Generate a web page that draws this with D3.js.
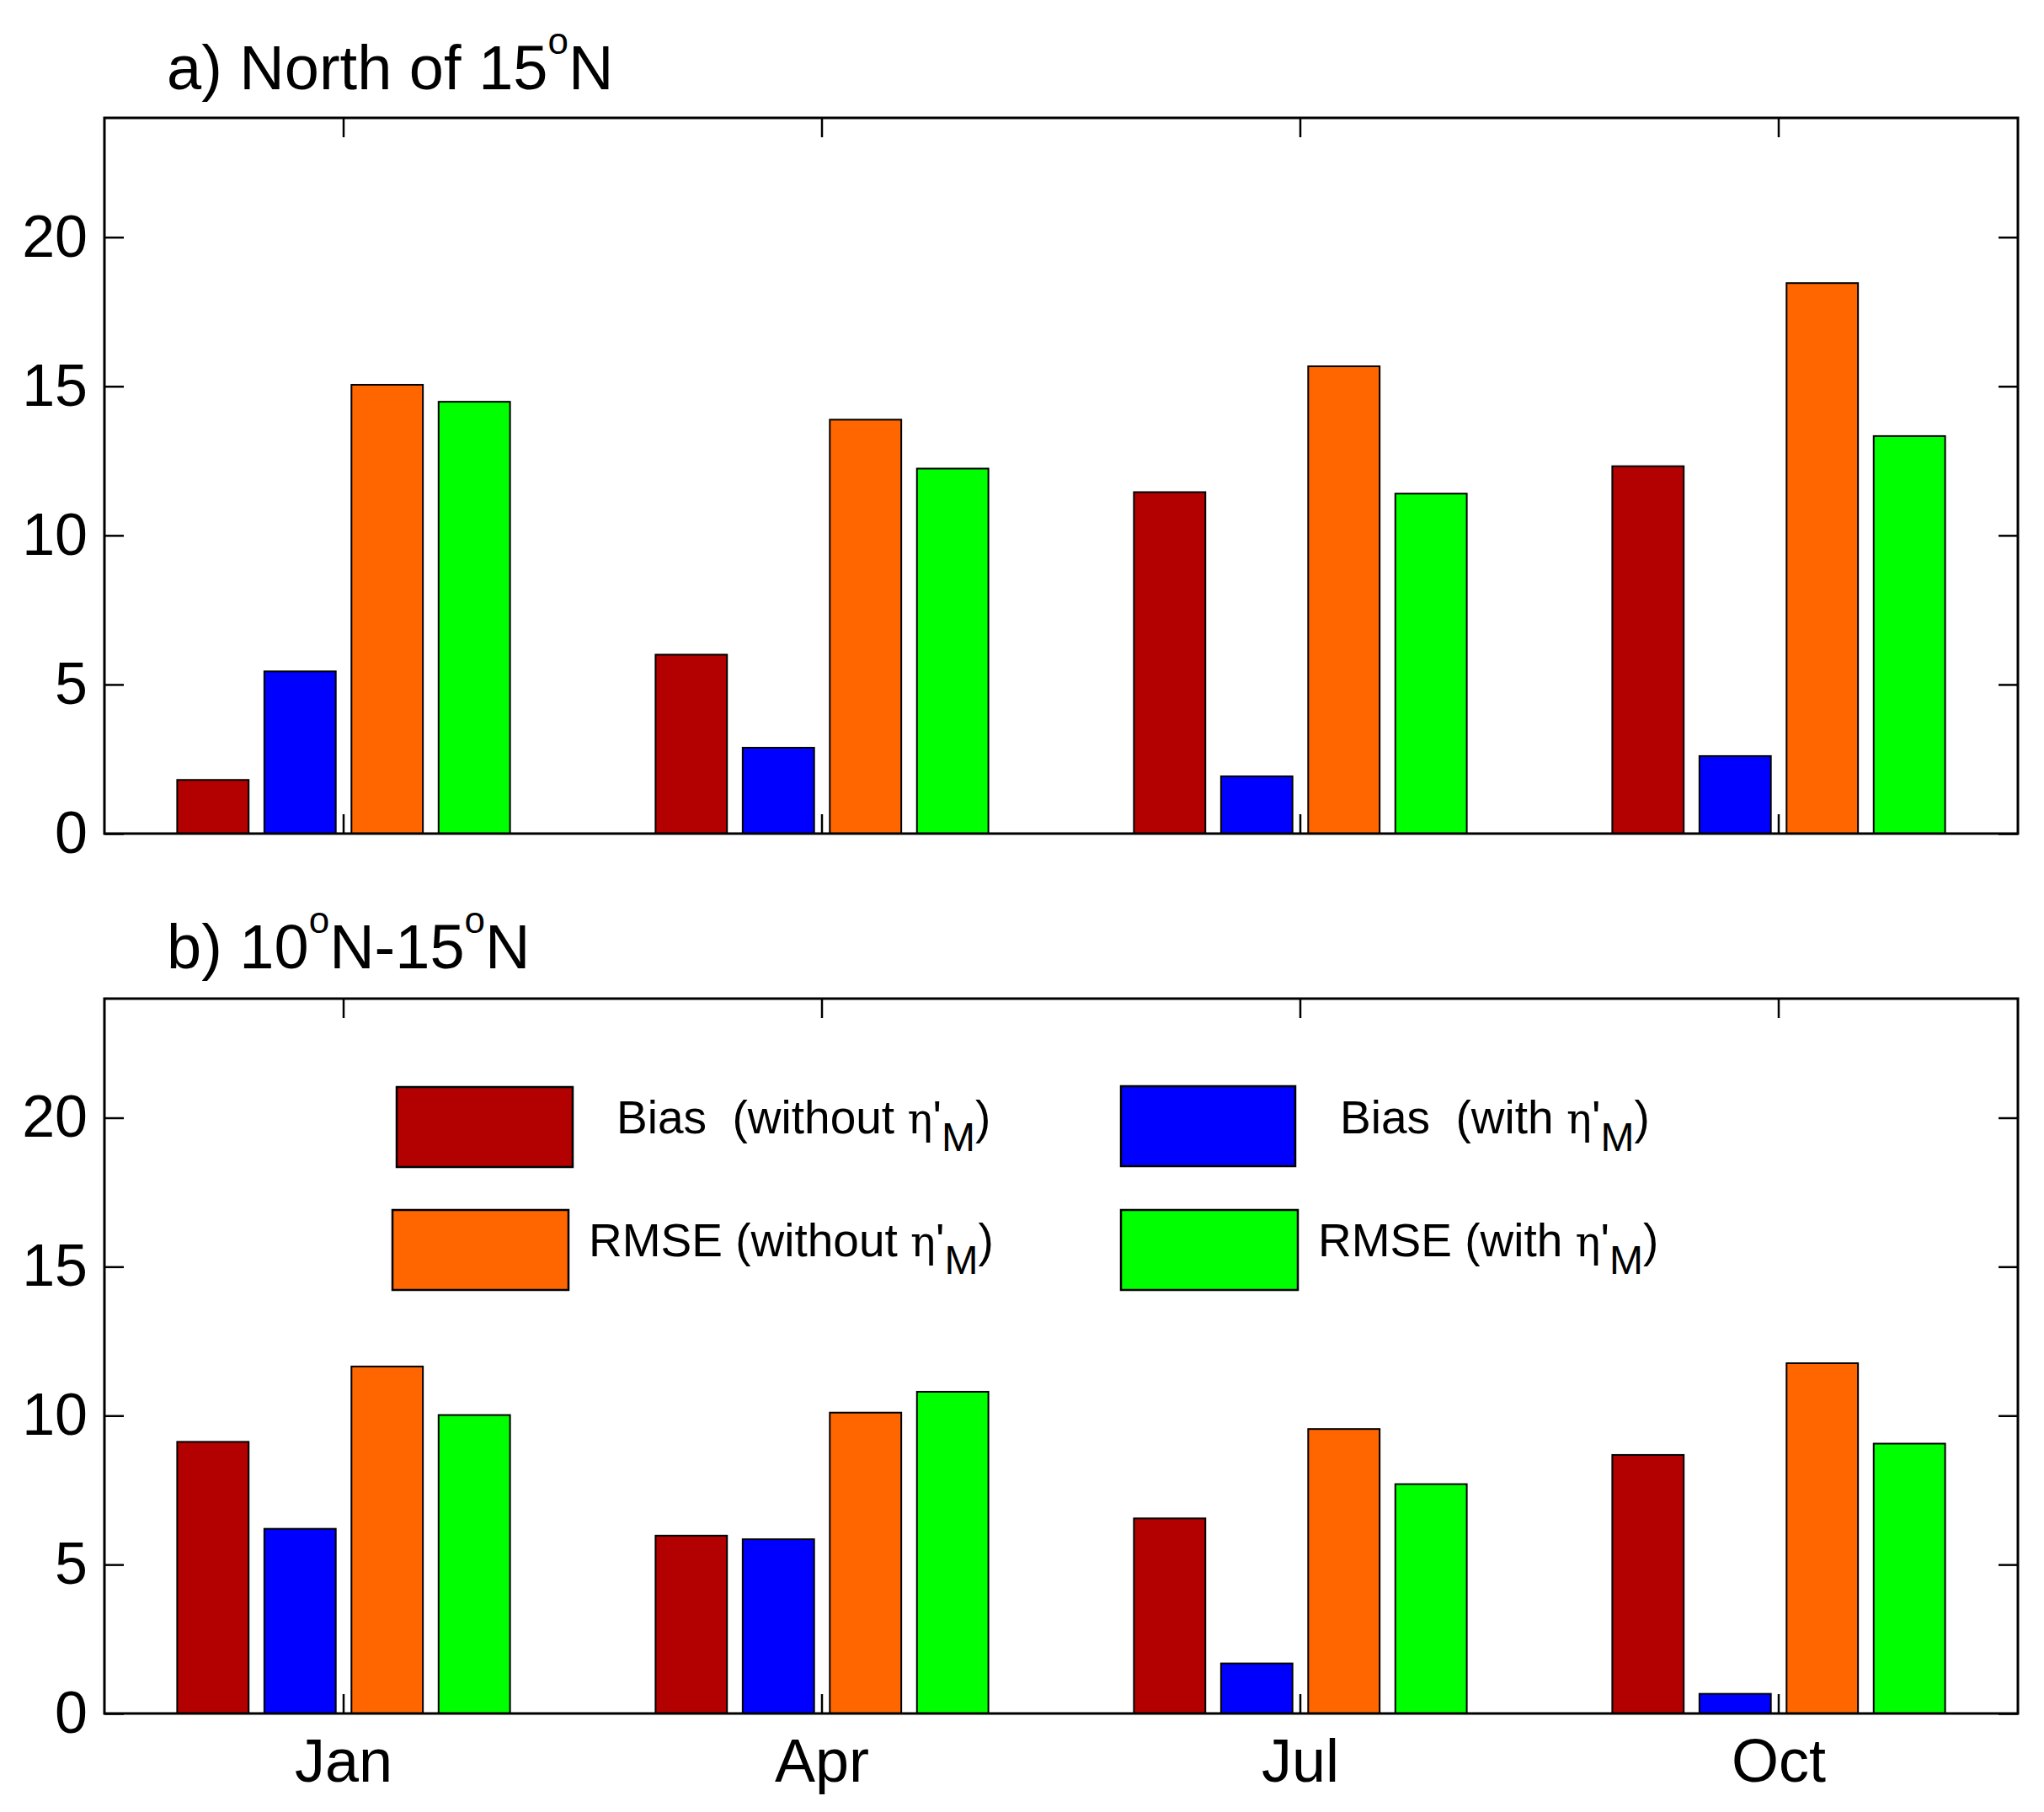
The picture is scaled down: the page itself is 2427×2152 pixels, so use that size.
<!DOCTYPE html>
<html>
<head>
<meta charset="utf-8">
<script src="https://cdn.jsdelivr.net/npm/d3@7"></script>
<style>
  html, body { margin: 0; padding: 0; background: #fff; }
  svg { display: block; }
  text { font-family: Arial, "Liberation Sans", sans-serif; fill: #000; }
</style>
</head>
<body>
<svg id="chart" width="2427" height="2152"></svg>
<script>
// data
var months = ["Jan", "Apr", "Jul", "Oct"];
var seriesKeys = ["biasWithout", "biasWith", "rmseWithout", "rmseWith"];
var seriesColors = ["#b30000", "#0000ff", "#ff6600", "#00ff00"];
var yTicks = [0, 5, 10, 15, 20];

// a) North of 15N
var northBiasWithout = [1.8, 6.0, 11.45, 12.32];
var northBiasWith    = [5.44, 2.88, 1.92, 2.6];
var northRmseWithout = [15.05, 13.88, 15.67, 18.46];
var northRmseWith    = [14.48, 12.24, 11.4, 13.33];

// b) 10N-15N
var midBiasWithout = [9.12, 5.97, 6.55, 8.68];
var midBiasWith    = [6.2, 5.85, 1.68, 0.66];
var midRmseWithout = [11.65, 10.1, 9.55, 11.76];
var midRmseWith    = [10.02, 10.8, 7.7, 9.06];

var legendPrefixes = ["Bias  (without ", "Bias  (with ", "RMSE (without ", "RMSE (with "];

var svg = d3.select("#chart"),
  left = 124,
  right = 2396;

var panels = [
  { top: 140, bottom: 990, title: ["a) North of 15", "N"], titleY: 106,
    values: [northBiasWithout, northBiasWith, northRmseWithout, northRmseWith], months: false },
  { top: 1186, bottom: 2035, title: ["b) 10", "N-15", "N"], titleY: 1150,
    values: [midBiasWithout, midBiasWith, midRmseWithout, midRmseWith], months: true }
];

var x0 = d3.scaleBand()
  .domain(months)
  .range([left, right]);

var x1 = d3.scaleBand()
  .domain(seriesKeys)
  .range([0, x0.bandwidth()])
  .paddingInner(0.18)
  .paddingOuter(0.835);

panels.forEach(function (p) {
  var g = svg.append("g");

  var y = d3.scaleLinear()
    .domain([0, 24])
    .range([p.bottom, p.top]);

  // title with superscript degree "o"
  var t = g.append("text")
    .attr("x", 198)
    .attr("y", p.titleY)
    .attr("font-size", 74);
  p.title.forEach(function (s, i) {
    t.append("tspan").attr("dy", i > 0 ? 42 : 0).text(s);
    if (i < p.title.length - 1) {
      t.append("tspan").attr("dy", -42).attr("font-size", 44).text("o");
    }
  });

  // ticks (inward on all four sides)
  var ax = [];
  ax.push(g.append("g")
    .attr("transform", "translate(" + left + ",0)")
    .call(d3.axisLeft(y).tickValues(yTicks).tickSize(-23).tickPadding(20)));
  ax.push(g.append("g")
    .attr("transform", "translate(" + right + ",0)")
    .call(d3.axisRight(y).tickValues(yTicks).tickSize(-23).tickFormat("")));
  ax.push(g.append("g")
    .attr("transform", "translate(0," + p.top + ")")
    .call(d3.axisTop(x0).tickSize(-23).tickFormat("")));
  ax.push(g.append("g")
    .attr("transform", "translate(0," + p.bottom + ")")
    .call(d3.axisBottom(x0).tickSize(-23).tickPadding(30)
      .tickFormat(p.months ? null : "")));

  ax.forEach(function (a) {
    a.select(".domain").remove();
    a.selectAll("line").attr("stroke", "#000").attr("stroke-width", 2.5);
    a.selectAll("text")
      .attr("font-family", "Arial, 'Liberation Sans', sans-serif")
      .attr("fill", "#000");
  });
  ax[0].selectAll("text").attr("font-size", 70);
  ax[3].selectAll("text").attr("font-size", 72);

  // bars
  var groups = g.append("g")
    .selectAll("g")
    .data(months)
    .enter().append("g")
      .attr("transform", function (d) { return "translate(" + x0(d) + ",0)"; });

  groups.selectAll("rect")
    .data(function (d, i) {
      return seriesKeys.map(function (k, j) {
        return { key: k, value: p.values[j][i], color: seriesColors[j] };
      });
    })
    .enter().append("rect")
      .attr("x", function (d) { return x1(d.key); })
      .attr("width", x1.bandwidth())
      .attr("y", function (d) { return y(d.value); })
      .attr("height", function (d) { return y(0) - y(d.value); })
      .attr("fill", function (d) { return d.color; })
      .attr("stroke", "#000")
      .attr("stroke-width", 2);

  // axes box
  g.append("rect")
    .attr("x", left)
    .attr("y", p.top)
    .attr("width", right - left)
    .attr("height", p.bottom - p.top)
    .attr("fill", "none")
    .attr("stroke", "#000")
    .attr("stroke-width", 3);
});

// legend inside panel b
var legendLayout = [
  { bx: 471, by: 1291, bw: 209, tx: 732, ty: 1346 },
  { bx: 1331, by: 1290, bw: 207, tx: 1591, ty: 1346 },
  { bx: 466, by: 1437, bw: 209, tx: 699, ty: 1492 },
  { bx: 1331, by: 1437, bw: 210, tx: 1565, ty: 1492 }
];

var legend = svg.append("g");

legendLayout.forEach(function (l, i) {
  legend.append("rect")
    .attr("x", l.bx)
    .attr("y", l.by)
    .attr("width", l.bw)
    .attr("height", 95)
    .attr("fill", seriesColors[i])
    .attr("stroke", "#000")
    .attr("stroke-width", 2.5);

  var t = legend.append("text")
    .attr("x", l.tx)
    .attr("y", l.ty)
    .attr("font-size", 55)
    .style("white-space", "pre");
  t.append("tspan").text(legendPrefixes[i]);
  t.append("tspan").attr("font-family", "'DejaVu Serif', 'Liberation Serif', serif").attr("font-size", 50).text("\u03b7");
  t.append("tspan").text("'");
  t.append("tspan").attr("dy", 21).attr("font-size", 48).text("M");
  t.append("tspan").attr("dy", -21).text(")");
});
</script>
</body>
</html>
